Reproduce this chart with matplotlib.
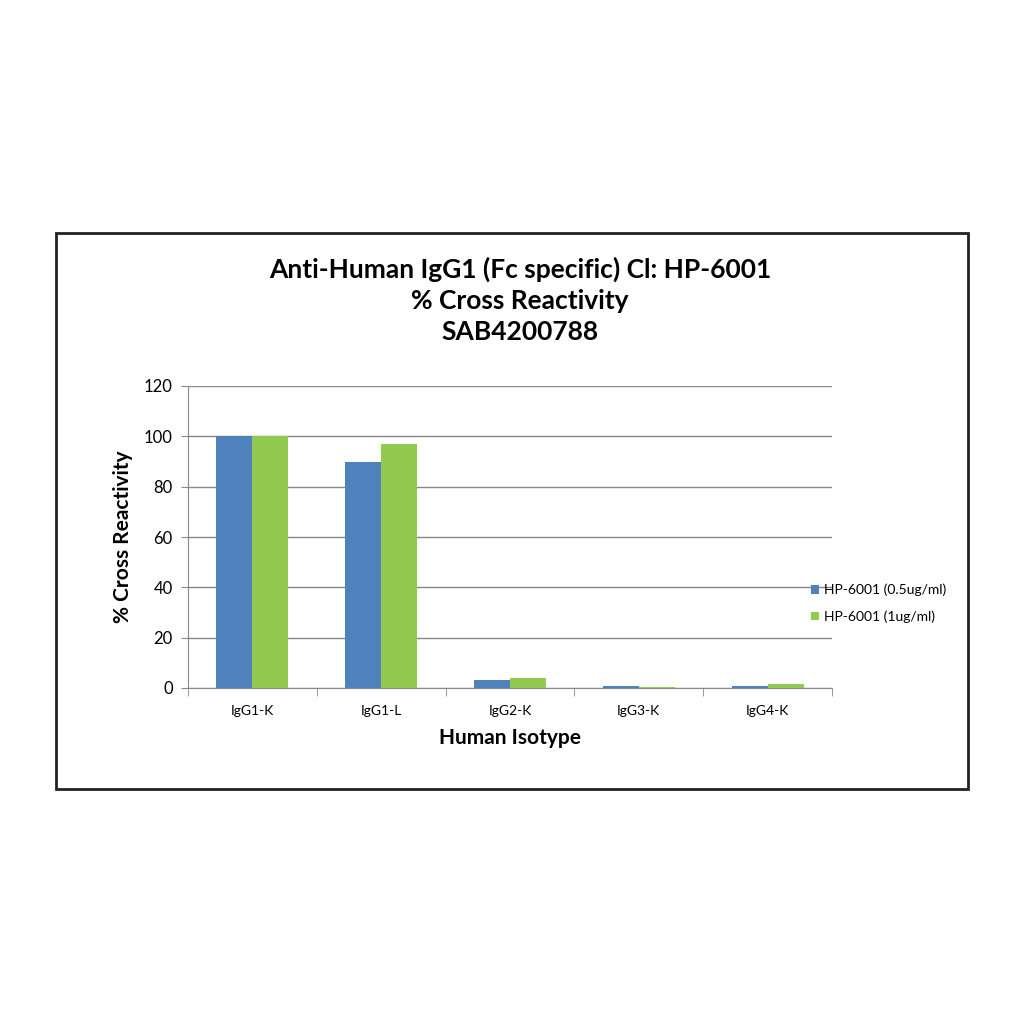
import numpy as np
import matplotlib
matplotlib.use('Agg')
import matplotlib.pyplot as plt
from matplotlib.patches import Rectangle

plt.rcParams['font.family'] = ['Lato', 'DejaVu Sans']

isotypes = ['IgG1-K', 'IgG1-L', 'IgG2-K', 'IgG3-K', 'IgG4-K']
conc_05 = [100, 90, 3.2, 0.7, 0.7]
conc_1 = [100, 97, 4.0, 0.2, 1.5]
series_names = ['HP-6001 (0.5ug/ml)', 'HP-6001 (1ug/ml)']
yticks = [0, 20, 40, 60, 80, 100, 120]

fig = plt.figure(figsize=(10.24, 10.24), dpi=100)

# outer frame of the chart
fig.patches.append(Rectangle((56/1024, 1 - 789/1024), 912/1024, 556/1024,
                             transform=fig.transFigure, fill=False,
                             edgecolor='#222222', linewidth=2))

ax = fig.add_axes([188/1024, 1 - 688/1024, 644/1024, 302/1024])

x = np.arange(len(isotypes))
w = 0.28
ax.bar(x - w/2, conc_05, w, color='#4F81BD', label=series_names[0], zorder=3)
ax.bar(x + w/2, conc_1, w, color='#92C94F', label=series_names[1], zorder=3)

ax.set_xlim(-0.5, len(isotypes) - 0.5)
ax.set_ylim(0, 120)
ax.set_yticks(yticks)
ax.set_yticklabels([str(t) for t in yticks], fontsize=12)
ax.set_xticks(x)
ax.set_xticklabels(isotypes, fontsize=10)
ax.tick_params(axis='x', length=0, pad=12)
ax.set_xticks(np.arange(-0.5, len(isotypes)), minor=True)
ax.tick_params(axis='x', which='minor', length=6, color='#888888')
ax.tick_params(axis='y', length=5, color='#888888', pad=6)
ax.grid(axis='y', color='#888888', linewidth=1, zorder=0)

for s in ['top', 'right']:
    ax.spines[s].set_visible(False)
for s in ['left', 'bottom']:
    ax.spines[s].set_color('#888888')

ax.set_xlabel('Human Isotype', fontsize=15, fontweight='bold', labelpad=8)
ax.set_ylabel('% Cross Reactivity', fontsize=15, fontweight='bold', labelpad=8)

fig.text(520/1024, 1 - 300/1024,
         'Anti-Human IgG1 (Fc specific) Cl: HP-6001\n% Cross Reactivity\nSAB4200788',
         ha='center', va='center', fontsize=19, fontweight='bold', linespacing=1.35)

ax.legend(loc='center left', bbox_to_anchor=(0.948, 0.28), frameon=False,
          fontsize=10, handlelength=0.6, handleheight=0.6, handletextpad=0.3,
          labelspacing=1.0)

fig.savefig('out.png', dpi=100, facecolor='white')
